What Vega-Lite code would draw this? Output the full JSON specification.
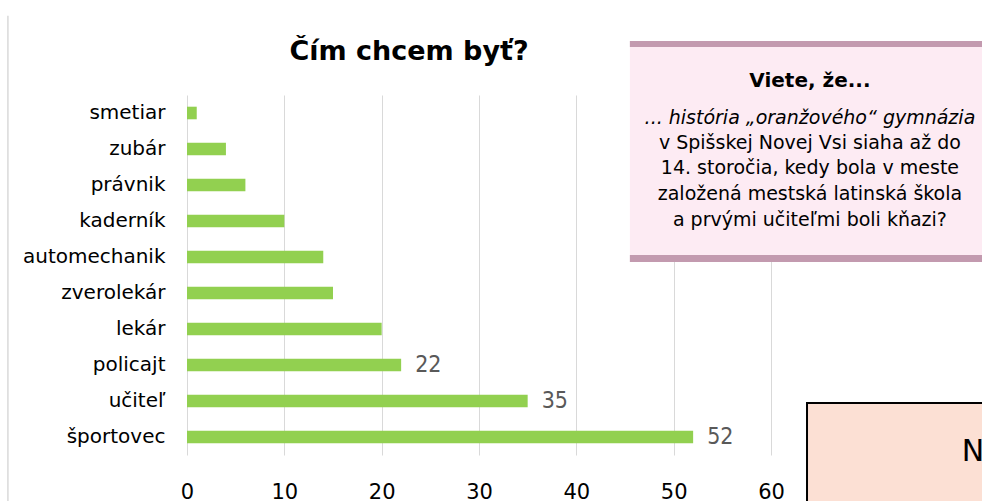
{
  "$schema": "https://vega.github.io/schema/vega-lite/v6.json",
  "autosize": "none",
  "width": 584,
  "height": 360,
  "padding": {"left": 187, "top": 95, "right": 211, "bottom": 46},
  "background": "white",
  "config": {"view": {"stroke": null}, "font": "DejaVu Sans"},
  "title": {
    "text": "Čím chcem byť?",
    "font": "DejaVu Sans",
    "fontSize": 27,
    "fontWeight": "bold",
    "color": "#000000",
    "anchor": "middle",
    "frame": "group",
    "dx": -70,
    "baseline": "alphabetic",
    "offset": -72
  },
  "layer": [
    {
      "data": {
        "values": [
          {"povolanie": "smetiar", "pocet": 1},
          {"povolanie": "zubár", "pocet": 4},
          {"povolanie": "právnik", "pocet": 6},
          {"povolanie": "kaderník", "pocet": 10},
          {"povolanie": "automechanik", "pocet": 14},
          {"povolanie": "zverolekár", "pocet": 15},
          {"povolanie": "lekár", "pocet": 20},
          {"povolanie": "policajt", "pocet": 22},
          {"povolanie": "učiteľ", "pocet": 35},
          {"povolanie": "športovec", "pocet": 52}
        ]
      },
      "encoding": {
        "y": {
          "field": "povolanie",
          "type": "nominal",
          "sort": null,
          "scale": {"paddingInner": 0.65, "paddingOuter": 0.325},
          "axis": {
            "title": null,
            "domain": false,
            "ticks": false,
            "grid": false,
            "labelFont": "DejaVu Sans",
            "labelFontSize": 20,
            "labelColor": "#000000",
            "labelPadding": 22
          }
        },
        "x": {
          "field": "pocet",
          "type": "quantitative",
          "scale": {"domain": [0, 60], "nice": false},
          "axis": {
            "title": null,
            "values": [0, 10, 20, 30, 40, 50, 60],
            "domain": false,
            "ticks": false,
            "grid": true,
            "gridColor": "#D9D9D9",
            "gridWidth": 1,
            "labelFlush": false,
            "labelFont": "DejaVu Sans",
            "labelFontSize": 21,
            "labelColor": "#000000",
            "labelPadding": 26
          }
        }
      },
      "layer": [
        {"mark": {"type": "bar", "color": "#92D050"}},
        {
          "transform": [{"filter": "datum.pocet >= 22"}],
          "mark": {
            "type": "text",
            "align": "left",
            "baseline": "middle",
            "dx": 14,
            "font": "Liberation Sans Narrow, DejaVu Sans Condensed, sans-serif",
            "fontSize": 23,
            "color": "#595959"
          },
          "encoding": {"text": {"field": "pocet", "type": "quantitative"}}
        }
      ]
    },
    {
      "layer": [
        {
          "data": {"values": [{"ax": -18.4, "ay": -2.7, "ay2": 11.5}]},
          "mark": {"type": "rule", "color": "#D9D9D9", "strokeWidth": 1.5},
          "encoding": {
            "x": {"field": "ax", "type": "quantitative", "scale": {"domain": [0, 60], "nice": false, "zero": false}, "axis": null},
            "y": {"field": "ay", "type": "quantitative", "scale": {"domain": [-0.5, 9.5], "nice": false, "zero": false, "reverse": true}, "axis": null},
            "y2": {"field": "ay2"}
          }
        },
        {
          "data": {"values": [{"ax": 45.5, "ax2": 83, "ay": -1.833, "ay2": 3.944}]},
          "mark": {"type": "rect", "color": "#FDEBF3"},
          "encoding": {
            "x": {"field": "ax", "type": "quantitative", "scale": {"domain": [0, 60], "nice": false, "zero": false}, "axis": null},
            "x2": {"field": "ax2"},
            "y": {"field": "ay", "type": "quantitative", "scale": {"domain": [-0.5, 9.5], "nice": false, "zero": false, "reverse": true}, "axis": null},
            "y2": {"field": "ay2"}
          }
        },
        {
          "data": {"values": [
            {"ax": 45.5, "ax2": 83, "ay": -2.0, "ay2": -1.833},
            {"ax": 45.5, "ax2": 83, "ay": 3.944, "ay2": 4.139}
          ]},
          "mark": {"type": "rect", "color": "#C39AAF"},
          "encoding": {
            "x": {"field": "ax", "type": "quantitative", "axis": null},
            "x2": {"field": "ax2"},
            "y": {"field": "ay", "type": "quantitative", "axis": null},
            "y2": {"field": "ay2"}
          }
        },
        {
          "data": {"values": [{"ax": 63.7, "ax2": 83, "ay": 8.056, "ay2": 11.5}]},
          "mark": {"type": "rect", "fill": "#FCE0D4", "stroke": "#000000", "strokeWidth": 2},
          "encoding": {
            "x": {"field": "ax", "type": "quantitative", "axis": null},
            "x2": {"field": "ax2"},
            "y": {"field": "ay", "type": "quantitative", "axis": null},
            "y2": {"field": "ay2"}
          }
        },
        {
          "data": {"values": [{"ax": 64.0, "ay": -0.889, "t": "Viete, že..."}]},
          "mark": {"type": "text", "align": "center", "baseline": "middle", "font": "DejaVu Sans", "fontSize": 20, "fontWeight": "bold", "color": "#000000"},
          "encoding": {
            "x": {"field": "ax", "type": "quantitative", "axis": null},
            "y": {"field": "ay", "type": "quantitative", "axis": null},
            "text": {"field": "t"}
          }
        },
        {
          "data": {"values": [{"ax": 64.0, "ay": 0.139, "t": "... história „oranžového“ gymnázia"}]},
          "mark": {"type": "text", "align": "center", "baseline": "middle", "font": "DejaVu Sans", "fontSize": 19, "fontStyle": "italic", "color": "#000000"},
          "encoding": {
            "x": {"field": "ax", "type": "quantitative", "axis": null},
            "y": {"field": "ay", "type": "quantitative", "axis": null},
            "text": {"field": "t"}
          }
        },
        {
          "data": {"values": [
            {"ax": 64.0, "ay": 0.833, "t": "v Spišskej Novej Vsi siaha až do"},
            {"ax": 64.0, "ay": 1.528, "t": "14. storočia, kedy bola v meste"},
            {"ax": 64.0, "ay": 2.25, "t": "založená mestská latinská škola"},
            {"ax": 64.0, "ay": 2.972, "t": "a prvými učiteľmi boli kňazi?"}
          ]},
          "mark": {"type": "text", "align": "center", "baseline": "middle", "font": "DejaVu Sans", "fontSize": 19, "color": "#000000"},
          "encoding": {
            "x": {"field": "ax", "type": "quantitative", "axis": null},
            "y": {"field": "ay", "type": "quantitative", "axis": null},
            "text": {"field": "t"}
          }
        },
        {
          "data": {"values": [{"ax": 79.6, "ay": 9.42, "t": "N"}]},
          "mark": {"type": "text", "align": "left", "baseline": "middle", "font": "DejaVu Sans", "fontSize": 30, "color": "#000000"},
          "encoding": {
            "x": {"field": "ax", "type": "quantitative", "axis": null},
            "y": {"field": "ay", "type": "quantitative", "axis": null},
            "text": {"field": "t"}
          }
        }
      ]
    }
  ],
  "resolve": {"scale": {"x": "independent", "y": "independent"}}
}
